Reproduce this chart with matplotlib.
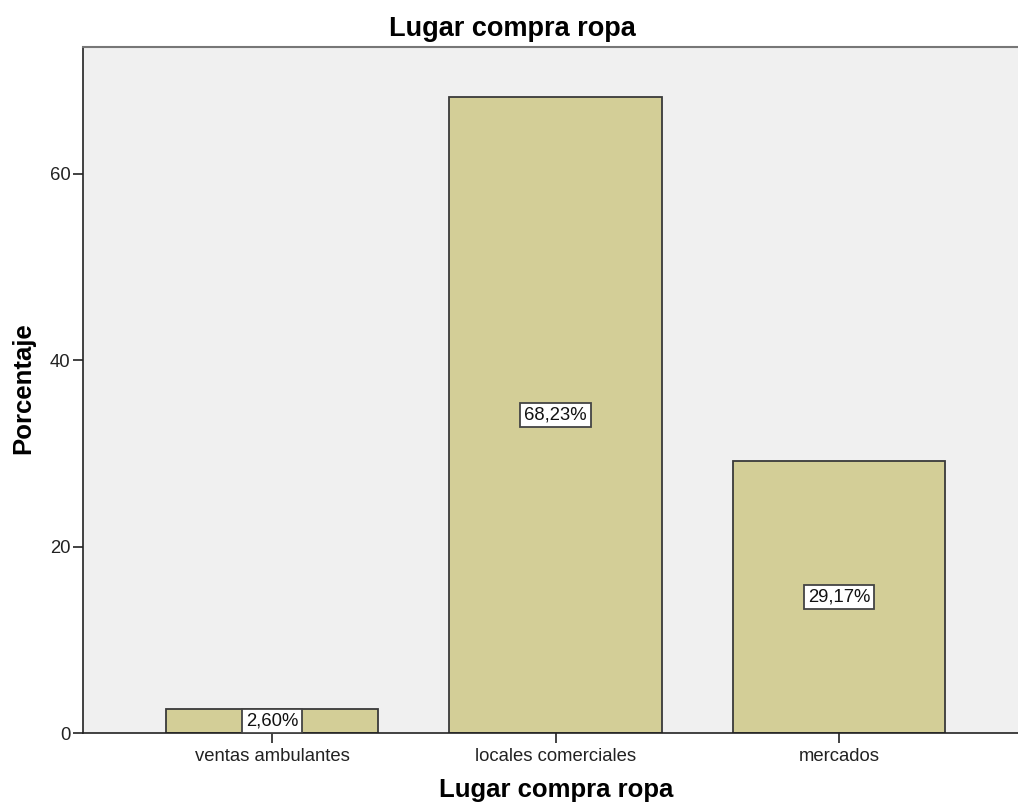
import matplotlib
matplotlib.use("Agg")
import matplotlib.pyplot as plt

plt.rcParams["font.family"] = ["Liberation Sans", "DejaVu Sans"]

# Data
categories = ["ventas ambulantes", "locales comerciales", "mercados"]
percentages = [2.60, 68.23, 29.17]
labels = ["2,60%", "68,23%", "29,17%"]
yticks = [0, 20, 40, 60]

W, H = 1018, 808
fig = plt.figure(figsize=(W / 100, H / 100), dpi=100)
fig.patch.set_facecolor("white")

# axes box in pixels: left 83, right ~1028 (runs off image), top 47, bottom 733
left, right, top, bottom = 83, 1028, 47, 733
ax = fig.add_axes([left / W, 1 - bottom / H, (right - left) / W, (bottom - top) / H])
ax.set_facecolor("#F0F0F0")

x = list(range(len(categories)))
ax.bar(x, percentages, width=0.748, color="#D3CE97", edgecolor="#3A3A3A", linewidth=1.3, zorder=2)

for xi, val, lab in zip(x, percentages, labels):
    ax.text(xi, val / 2, lab, ha="center", va="center", fontsize=13.3, color="#111111", zorder=3,
            bbox=dict(boxstyle="square,pad=0.2", facecolor="white", edgecolor="#444444", linewidth=1.3))

ax.set_xlim(-0.667, 2.667)
ax.set_ylim(0, 73.6)
ax.set_xticks(x)
ax.set_xticklabels(categories, fontsize=13.3)
ax.set_yticks(yticks)
ax.set_yticklabels([str(t) for t in yticks], fontsize=13.3)
ax.tick_params(axis="both", direction="out", length=7.5, width=1.2, color="#222222", labelcolor="#222222", pad=1.5)
ax.tick_params(axis="x", pad=3)

for side in ["left", "bottom"]:
    ax.spines[side].set_color("#222222")
    ax.spines[side].set_linewidth(1.2)
ax.spines["top"].set_color("#777777")
ax.spines["top"].set_linewidth(1.5)
ax.spines["right"].set_visible(False)

fig.text(512 / W, 1 - 29 / H, "Lugar compra ropa", ha="center", va="center", fontsize=19.5, fontweight="bold")
fig.text(556 / W, 1 - 790 / H, "Lugar compra ropa", ha="center", va="center", fontsize=18.5, fontweight="bold")
fig.text(23 / W, 1 - 388 / H, "Porcentaje", ha="center", va="center", rotation=90, fontsize=18.5, fontweight="bold")

fig.savefig("out.png", dpi=100, facecolor="white")
